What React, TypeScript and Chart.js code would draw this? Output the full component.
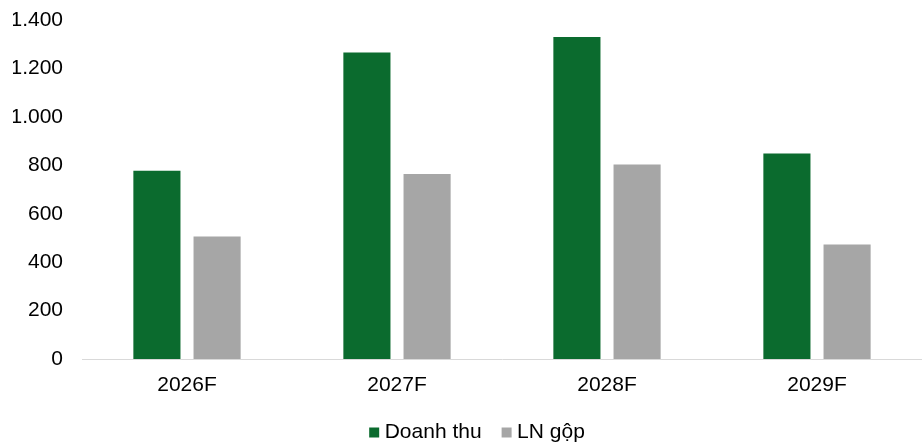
import React, { useEffect, useRef } from "react";
import { Chart, registerables } from "chart.js";

Chart.register(...registerables);

const categories = ["2026F", "2027F", "2028F", "2029F"];
const doanhThu = [777, 1266, 1330, 849];
const lnGop = [506, 764, 803, 473];
const seriesNames = ["Doanh thu", "LN gộp"];
const yTicks = [0, 200, 400, 600, 800, 1000, 1200, 1400];

const FONT = "'Liberation Sans', Arial, sans-serif";

function fmt(v: number): string {
  return String(v).replace(/\B(?=(\d{3})+(?!\d))/g, ".");
}

const legendShift = {
  id: "legendShift",
  afterUpdate(chart: any) {
    const lg = chart.legend;
    if (lg) {
      lg.left += 12;
      lg.right += 12;
    }
  },
};

export default function App() {
  const ref = useRef<HTMLCanvasElement | null>(null);
  useEffect(() => {
    if (!ref.current) return;
    const chart = new Chart(ref.current, {
      type: "bar",
      data: {
        labels: categories,
        datasets: [
          {
            label: seriesNames[0],
            data: doanhThu,
            backgroundColor: "#0B6B2E",
            categoryPercentage: 0.573,
            barPercentage: 0.783,
          },
          {
            label: seriesNames[1],
            data: lnGop,
            backgroundColor: "#A6A6A6",
            categoryPercentage: 0.573,
            barPercentage: 0.783,
          },
        ],
      },
      options: {
        animation: false,
        responsive: false,
        maintainAspectRatio: false,
        layout: { padding: { left: 13, right: 0, top: 0, bottom: -8 } },
        plugins: {
          legend: {
            position: "bottom",
            labels: {
              font: { family: FONT, size: 21 },
              color: "#000",
              usePointStyle: true,
              pointStyle: "rect",
              boxWidth: 0.01,
              boxHeight: 10,
              padding: 25,
            },
          },
          tooltip: { enabled: false },
        },
        scales: {
          x: {
            grid: { display: false, drawTicks: false },
            border: { display: true, color: "#D9D9D9", width: 1 },
            ticks: { font: { family: FONT, size: 21 }, color: "#000", padding: 14 },
            afterFit: (axis: any) => {
              axis.height = 38;
            },
          },
          y: {
            min: 0,
            max: 1400,
            afterBuildTicks: (axis: any) => {
              axis.ticks = yTicks.map((v) => ({ value: v }));
            },
            afterFit: (axis: any) => {
              axis.width = 69;
              axis.paddingTop = 20;
              axis.paddingBottom = 0;
            },
            grid: { display: false, drawTicks: false },
            border: { display: false },
            ticks: {
              font: { family: FONT, size: 21 },
              color: "#000",
              padding: 19,
              callback: (v: any) => fmt(Number(v)),
            },
          },
        },
      },
      plugins: [legendShift],
    });
    return () => chart.destroy();
  }, []);
  return (
    <div style={{ position: "fixed", left: 0, top: 0, width: 922, height: 445, background: "#fff" }}>
      <canvas ref={ref} width={922} height={445} style={{ width: 922, height: 445 }} />
    </div>
  );
}
